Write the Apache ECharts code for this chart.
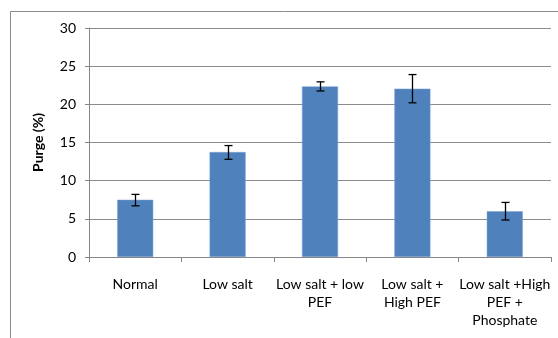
<!DOCTYPE html>
<html><head><meta charset="utf-8">
<script src="https://cdn.jsdelivr.net/npm/echarts@6/dist/echarts.min.js"></script>
<style>html,body{margin:0;padding:0;background:#fff}#c{width:558px;height:338px}</style>
</head><body><div id="c"></div>
<script>
var categories = ['Normal', 'Low salt', 'Low salt + low\nPEF', 'Low salt +\nHigh PEF', 'Low salt +High\nPEF +\nPhosphate'];
var purge = [7.5, 13.75, 22.35, 22.05, 6.0];
var errLow = [6.7, 12.8, 21.75, 20.2, 4.85];
var errHigh = [8.2, 14.6, 22.95, 23.9, 7.15];
var yTicks = [0, 5, 10, 15, 20, 25, 30];

var chart = echarts.init(document.getElementById('c'), null, {renderer: 'canvas'});
var font = 'Lato, "Open Sans", sans-serif';
chart.setOption({
  animation: false,
  graphic: [{type: 'rect', shape: {x: 10.5, y: 11.5, width: 700, height: 500}, style: {fill: 'none', stroke: '#8c8c8c', lineWidth: 1}, z: -1}],
  grid: {left: 89, right: 7, top: 28, bottom: 81},
  xAxis: {
    type: 'category', data: categories,
    axisLine: {lineStyle: {color: '#868686'}},
    axisTick: {show: true, length: 5, lineStyle: {color: '#868686'}},
    axisLabel: {color: '#000', fontSize: 14, fontFamily: font, lineHeight: 18, margin: 18, interval: 0}
  },
  yAxis: {
    type: 'value', min: yTicks[0], max: yTicks[yTicks.length - 1], interval: 5,
    name: 'Purge (%)', nameLocation: 'middle', nameGap: 44, nameRotate: 90,
    nameTextStyle: {color: '#000', fontSize: 14, fontWeight: 'bold', fontFamily: font},
    axisLine: {show: true, lineStyle: {color: '#868686'}},
    axisTick: {show: true, length: 4, lineStyle: {color: '#868686'}},
    axisLabel: {color: '#000', fontSize: 14, fontFamily: font, margin: 13},
    splitLine: {lineStyle: {color: '#8c8c8c', width: 1}}
  },
  series: [{
    type: 'bar', data: purge, barWidth: '39%',
    itemStyle: {color: '#4F81BD', borderColor: '#7fa3d1', borderWidth: 0.5}
  }, {
    type: 'custom', z: 10,
    data: categories.map(function (c, i) { return [i, errLow[i], errHigh[i]]; }),
    renderItem: function (params, api) {
      var lo = api.coord([api.value(0), api.value(1)]);
      var hi = api.coord([api.value(0), api.value(2)]);
      var x = Math.round(lo[0]) + 0.5, w = 4;
      var st = {stroke: '#000', lineWidth: 1.3};
      return {type: 'group', children: [
        {type: 'line', shape: {x1: x, y1: hi[1], x2: x, y2: lo[1]}, style: st},
        {type: 'line', shape: {x1: x - w, y1: hi[1], x2: x + w, y2: hi[1]}, style: st},
        {type: 'line', shape: {x1: x - w, y1: lo[1], x2: x + w, y2: lo[1]}, style: st}
      ]};
    }
  }]
});
</script></body></html>
